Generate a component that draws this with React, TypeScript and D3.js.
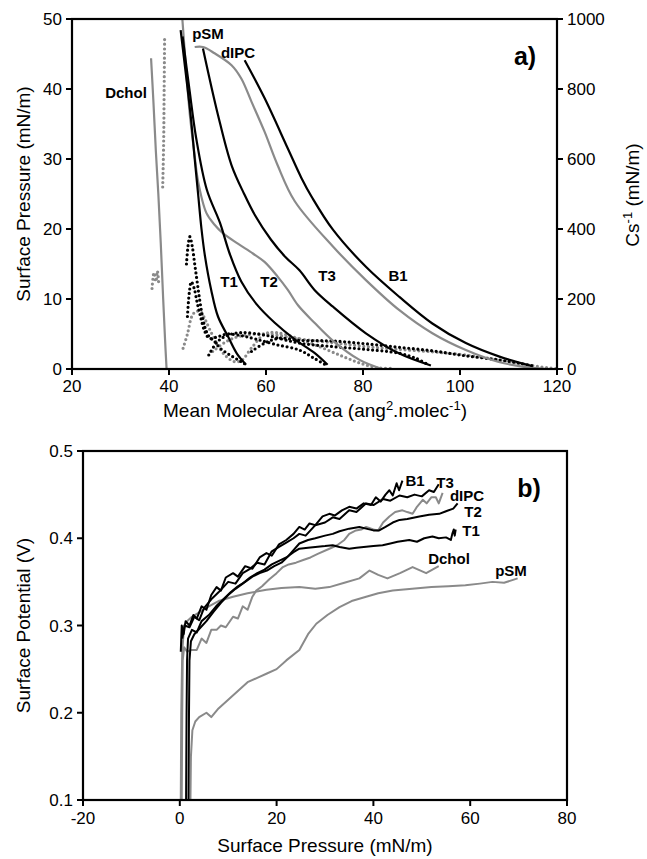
import React from "react";
import * as d3 from "d3";

type Pt = [number, number];

// ---- panel a) : isotherms [area, surface pressure]
const areaTicks = [20, 40, 60, 80, 100, 120];
const pressureTicks = [0, 10, 20, 30, 40, 50];
const csTicks = [0, 200, 400, 600, 800, 1000];

const dcholIso: Pt[] = [[36.3, 44.4], [36.8, 38], [37.3, 31], [37.8, 25], [38.3, 18], [38.8, 10], [39.2, 4], [39.5, 0]];
const psmIso: Pt[] = [[42.7, 50.5], [43.5, 43], [44.3, 36.3], [45.2, 31], [46, 26.8], [47.7, 22.3], [49.4, 20.6], [51.1, 19.4], [54.2, 17.9], [57.3, 16.5], [59.7, 15.3], [62.4, 13.2], [64.5, 11.3], [66.6, 9.1], [70, 6.6], [73.7, 4.1], [79.3, 1.3], [84, 0]];
const dipcIso: Pt[] = [[45.3, 46], [47, 46], [49.4, 45.1], [52.9, 43.4], [54.9, 41.5], [57, 38.2], [59.7, 33.9], [62.4, 29.1], [65.9, 24], [73.8, 17.5], [80.6, 12.7], [87.5, 8.4], [94.3, 5.1], [101.2, 2.7], [108, 1.0], [115, 0.15], [118, 0]];
const t1Iso: Pt[] = [[42.4, 48.4], [43.5, 42], [44.5, 36], [45.3, 30], [46, 25], [46.7, 20], [47.4, 16.2], [48.7, 11.3], [50.1, 7.5], [52.2, 4.6], [54, 2.2], [55.9, 0.6]];
const t2Iso: Pt[] = [[42.8, 47.5], [44.2, 40], [45.6, 33], [47.8, 25.6], [50.5, 20.9], [52.5, 16.5], [54.9, 12.5], [58, 9.3], [61.8, 6.6], [66, 4.2], [70, 2.3], [72.7, 0.6]];
const t3Iso: Pt[] = [[47, 45.8], [50.1, 36.3], [52.9, 29.1], [55.5, 25], [57.7, 22], [61, 18.5], [64, 16], [66.9, 14.1], [70, 11.3], [73.8, 8.9], [80.6, 5.1], [87.5, 2.2], [94, 0.5]];
const b1Iso: Pt[] = [[55.6, 44.1], [59.7, 38.7], [64.5, 31.5], [67.3, 27.3], [69.5, 24.5], [73.8, 19.9], [80.6, 14.6], [87.5, 10.3], [94.3, 6.5], [101.2, 3.7], [108, 1.8], [115, 0.4]];

// compressional modulus Cs^-1 [area, mN/m]
const dcholCs: (Pt | null)[] = [[36.5, 230], [36.9, 275], [37.3, 250], [37.6, 280], [37.9, 240], null, [38.7, 520], [38.9, 650], [39.0, 800], [39.1, 950]];
const psmCs: Pt[] = [[42.9, 59], [43.8, 100], [44.7, 150], [45.5, 164], [46.5, 164], [47.5, 140], [48.5, 110], [50, 70], [51.5, 40], [53.5, 21], [55, 25], [57, 60], [59.7, 100], [62, 104], [66, 90], [71, 64], [76, 35], [80, 14], [83.4, 3], [86, 2]];
const dipcCs: Pt[] = [[49, 50], [52, 80], [55, 95], [60, 100], [66.9, 86], [73.8, 75], [80.6, 64], [87.5, 56], [94.3, 49], [101, 40], [108, 26], [114, 12], [118.3, 3], [120, 1]];
const t1Cs: Pt[] = [[43.6, 300], [44, 360], [44.3, 378], [44.8, 350], [45.3, 300], [45.8, 250], [46.3, 200], [46.9, 150], [47.5, 115], [48.3, 92], [49.3, 80], [50.5, 60], [52, 45], [53.5, 32], [55, 20], [55.9, 12]];
const t2Cs: Pt[] = [[43.8, 150], [44.2, 220], [44.6, 249], [45.2, 230], [45.8, 190], [46.5, 150], [47.3, 110], [48.3, 88], [50, 92], [52, 100], [55, 95], [58, 85], [62, 70], [66.9, 54], [70, 30], [72.4, 11]];
const t3Cs: Pt[] = [[48.2, 40], [50, 78], [52, 96], [55, 104], [60, 96], [66.9, 74], [73.8, 64], [80.6, 56], [87.5, 45], [91, 30], [93.6, 11]];
const b1Cs: Pt[] = [[57, 50], [60, 76], [63, 88], [66.9, 82], [73.8, 80], [80.6, 72], [87.5, 62], [94.3, 52], [101, 38], [108, 26], [112, 17], [115, 9]];

// ---- panel b) : surface potential [surface pressure, V]
const pressureTicksB = [-20, 0, 20, 40, 60, 80];
const potentialTicks = [0.1, 0.2, 0.3, 0.4, 0.5];

const b1Pot: Pt[] = [[0.2, 0.27], [0.4, 0.3], [0.8, 0.29], [1.2, 0.305], [2, 0.3], [2.8, 0.312], [3.5, 0.308], [4.5, 0.322], [5.5, 0.318], [6.5, 0.335], [7.6, 0.344], [8.5, 0.34], [9.5, 0.355], [11, 0.36], [12, 0.356], [13.5, 0.368], [15, 0.365], [16.5, 0.378], [17.9, 0.383], [19, 0.38], [20.5, 0.393], [22, 0.398], [23.5, 0.405], [24.7, 0.413], [25.8, 0.41], [26.8, 0.417], [28, 0.415], [29.5, 0.425], [30.9, 0.428], [32, 0.426], [33.5, 0.432], [35, 0.436], [36.5, 0.434], [38, 0.44], [39.5, 0.438], [40.5, 0.447], [41.5, 0.442], [42.5, 0.45], [43.3, 0.455], [44, 0.449], [44.8, 0.463], [45.3, 0.455], [46, 0.466]];
const t3Pot: Pt[] = [[0.5, 0.285], [1, 0.3], [2, 0.298], [3, 0.31], [4, 0.306], [5, 0.32], [6.5, 0.33], [8, 0.338], [10, 0.35], [11.5, 0.348], [13, 0.36], [14.5, 0.365], [16, 0.372], [17.5, 0.37], [19, 0.385], [20.5, 0.39], [22, 0.395], [23.5, 0.4], [24.7, 0.405], [26, 0.403], [28, 0.415], [30, 0.418], [31.6, 0.424], [33, 0.422], [35, 0.432], [36.5, 0.43], [38.5, 0.44], [40, 0.438], [42, 0.445], [43.5, 0.443], [45.4, 0.449], [47, 0.447], [48.5, 0.45], [50, 0.448], [51.5, 0.455], [52.5, 0.453], [53.5, 0.462]];
const t2Pot: Pt[] = [[1.3, 0.1], [1.4, 0.2], [1.5, 0.26], [1.7, 0.285], [2.5, 0.295], [3.5, 0.292], [4.5, 0.305], [6, 0.312], [7.5, 0.322], [9, 0.33], [10.5, 0.338], [12, 0.345], [13.5, 0.35], [15, 0.356], [16.5, 0.36], [18, 0.363], [19.5, 0.368], [21, 0.372], [22.5, 0.38], [24.7, 0.394], [26.5, 0.398], [28, 0.4], [30, 0.403], [31.6, 0.405], [33, 0.408], [35, 0.411], [37.1, 0.413], [38.5, 0.411], [40, 0.409], [41.2, 0.409], [42.5, 0.413], [44, 0.418], [45.4, 0.421], [47, 0.422], [49.5, 0.425], [51.5, 0.427], [53.6, 0.428], [55, 0.431], [56.5, 0.434], [57.4, 0.44]];
const t1Pot: Pt[] = [[1.8, 0.1], [1.9, 0.2], [2, 0.26], [2.3, 0.282], [3, 0.29], [4, 0.296], [5.5, 0.305], [7, 0.316], [8.5, 0.326], [10, 0.335], [11.5, 0.342], [13, 0.348], [14.5, 0.355], [16, 0.36], [17.5, 0.364], [19, 0.37], [20.5, 0.374], [22, 0.378], [23.5, 0.384], [24.7, 0.388], [26.5, 0.389], [28, 0.39], [30, 0.391], [31.6, 0.392], [33, 0.39], [35, 0.388], [36.5, 0.389], [38, 0.39], [40, 0.391], [41.9, 0.392], [43.5, 0.394], [45, 0.396], [47.4, 0.398], [49, 0.396], [50.5, 0.4], [52.2, 0.402], [53.5, 0.4], [55, 0.401], [56, 0.398], [56.3, 0.405], [56.6, 0.41], [56.8, 0.403], [57, 0.41]];
const dipcPot: Pt[] = [[0.4, 0.1], [0.5, 0.2], [0.6, 0.26], [0.9, 0.275], [1.5, 0.27], [2.5, 0.272], [3.5, 0.272], [4.5, 0.285], [5.5, 0.28], [6.5, 0.295], [7.6, 0.295], [8.5, 0.3], [9.5, 0.298], [11, 0.31], [12, 0.308], [13, 0.322], [14, 0.318], [15, 0.333], [15.8, 0.34], [17, 0.345], [18.5, 0.353], [20, 0.36], [21.3, 0.367], [22.5, 0.37], [24, 0.372], [25.5, 0.375], [27, 0.378], [28.5, 0.382], [30.9, 0.388], [32.5, 0.392], [34, 0.398], [35, 0.405], [36.4, 0.409], [37.5, 0.41], [38.5, 0.413], [40, 0.41], [41, 0.409], [42, 0.418], [43.3, 0.425], [44.5, 0.43], [46, 0.432], [47, 0.43], [48.1, 0.428], [49, 0.436], [50.2, 0.444], [51, 0.44], [52, 0.447], [52.9, 0.447], [53.5, 0.44], [54.3, 0.452]];
const dcholPot: Pt[] = [[0.2, 0.1], [0.3, 0.2], [0.5, 0.27], [0.9, 0.3], [1.5, 0.305], [2.5, 0.31], [4, 0.315], [6, 0.322], [8, 0.328], [11, 0.333], [14, 0.337], [17.9, 0.341], [21, 0.343], [24.7, 0.344], [28, 0.342], [30.9, 0.344], [34, 0.349], [37.1, 0.354], [39.2, 0.363], [41, 0.358], [42.9, 0.354], [45.5, 0.36], [48.1, 0.367], [50.9, 0.36], [53.5, 0.368]];
const psmPot: Pt[] = [[2.2, 0.1], [2.3, 0.15], [2.6, 0.18], [3.2, 0.19], [4, 0.195], [5.5, 0.2], [6.5, 0.195], [8, 0.205], [10, 0.215], [12, 0.225], [14, 0.235], [16, 0.24], [18, 0.245], [20, 0.25], [22, 0.26], [24.7, 0.272], [26.5, 0.29], [28.2, 0.302], [30.5, 0.312], [33, 0.321], [35.5, 0.328], [38.5, 0.333], [41, 0.337], [44, 0.34], [48, 0.342], [52, 0.344], [55.5, 0.345], [59, 0.346], [62, 0.348], [64.6, 0.35], [67, 0.349], [69.8, 0.354]];

const BLACK = "#000";
const GREY = "#8a8a8a";
const FONT = "'Liberation Sans', Arial, sans-serif";

const A = { left: 72, right: 557, top: 19, bottom: 369 };
const B = { left: 83, right: 567, top: 451, bottom: 800 };

export default function App() {
  const xA = d3.scaleLinear().domain([20, 120]).range([A.left, A.right]);
  const yA = d3.scaleLinear().domain([0, 50]).range([A.bottom, A.top]);
  const yCs = d3.scaleLinear().domain([0, 1000]).range([A.bottom, A.top]);
  const xB = d3.scaleLinear().domain([-20, 80]).range([B.left, B.right]);
  const yB = d3.scaleLinear().domain([0.1, 0.5]).range([B.bottom, B.top]);

  const isoLine = d3.line<Pt>().x(d => xA(d[0])).y(d => yA(d[1])).curve(d3.curveCatmullRom);
  const csLine = d3.line<Pt | null>().defined(d => d !== null).x(d => xA(d![0])).y(d => yCs(d![1])).curve(d3.curveCatmullRom);
  const potLine = d3.line<Pt>().x(d => xB(d[0])).y(d => yB(d[1]));

  const isos = [
    { d: dcholIso, c: GREY }, { d: psmIso, c: GREY }, { d: dipcIso, c: GREY },
    { d: t1Iso, c: BLACK }, { d: t2Iso, c: BLACK }, { d: t3Iso, c: BLACK }, { d: b1Iso, c: BLACK },
  ];
  const css = [
    { d: dcholCs, c: GREY }, { d: psmCs, c: GREY }, { d: dipcCs, c: GREY },
    { d: t1Cs, c: BLACK }, { d: t2Cs, c: BLACK }, { d: t3Cs, c: BLACK }, { d: b1Cs, c: BLACK },
  ];
  const pots = [
    { d: psmPot, c: GREY }, { d: dcholPot, c: GREY }, { d: dipcPot, c: GREY },
    { d: t1Pot, c: BLACK }, { d: t2Pot, c: BLACK }, { d: t3Pot, c: BLACK }, { d: b1Pot, c: BLACK },
  ];

  const labelsA = [
    { t: "Dchol", x: 126, y: 93 }, { t: "pSM", x: 208, y: 34 }, { t: "dIPC", x: 238, y: 53 },
    { t: "T1", x: 229, y: 282 }, { t: "T2", x: 269, y: 282 }, { t: "T3", x: 327, y: 276 }, { t: "B1", x: 398, y: 276 },
  ];
  const labelsB = [
    { t: "B1", x: 415, y: 481 }, { t: "T3", x: 445, y: 483 }, { t: "dIPC", x: 467, y: 496 },
    { t: "T2", x: 473, y: 512 }, { t: "T1", x: 471, y: 531 }, { t: "Dchol", x: 449, y: 559 }, { t: "pSM", x: 511, y: 571 },
  ];

  return (
    <svg width={647} height={859} style={{ position: "absolute", left: 0, top: 0, background: "#fff" }} fontFamily={FONT}>
      <defs>
        <clipPath id="clipA"><rect x={A.left} y={A.top} width={A.right - A.left} height={A.bottom - A.top} /></clipPath>
        <clipPath id="clipB"><rect x={B.left} y={B.top} width={B.right - B.left} height={B.bottom - B.top} /></clipPath>
      </defs>

      {/* panel a */}
      <g clipPath="url(#clipA)">
        {css.map((s, i) => (
          <path key={"cs" + i} d={csLine(s.d) || ""} fill="none" stroke={s.c} strokeWidth={3.2} strokeLinecap="round" strokeDasharray="0 4.6" />
        ))}
        {isos.map((s, i) => (
          <path key={"iso" + i} d={isoLine(s.d) || ""} fill="none" stroke={s.c} strokeWidth={2.2} />
        ))}
      </g>
      <rect x={A.left} y={A.top} width={A.right - A.left} height={A.bottom - A.top} fill="none" stroke="#000" strokeWidth={2.2} />
      {areaTicks.map(t => (
        <g key={"xa" + t}>
          <line x1={xA(t)} x2={xA(t)} y1={A.bottom} y2={A.bottom + 6} stroke="#000" strokeWidth={2} />
          <text x={xA(t)} y={A.bottom + 23} fontSize={17} textAnchor="middle">{t}</text>
        </g>
      ))}
      {pressureTicks.map(t => (
        <g key={"ya" + t}>
          <line x1={A.left - 6} x2={A.left} y1={yA(t)} y2={yA(t)} stroke="#000" strokeWidth={2} />
          <text x={A.left - 10} y={yA(t) + 6} fontSize={17} textAnchor="end">{t}</text>
        </g>
      ))}
      {csTicks.map(t => (
        <g key={"yc" + t}>
          <line x1={A.right} x2={A.right + 6} y1={yCs(t)} y2={yCs(t)} stroke="#000" strokeWidth={2} />
          <text x={A.right + 10} y={yCs(t) + 6} fontSize={17} textAnchor="start">{t}</text>
        </g>
      ))}
      <text x={315} y={417} fontSize={19} textAnchor="middle">
        Mean Molecular Area (ang<tspan dy={-7} fontSize={13}>2</tspan><tspan dy={7}>.molec</tspan><tspan dy={-7} fontSize={13}>-1</tspan><tspan dy={7}>)</tspan>
      </text>
      <text transform={`translate(30,${(A.top + A.bottom) / 2}) rotate(-90)`} fontSize={19} textAnchor="middle">Surface Pressure (mN/m)</text>
      <text transform="translate(639,195) rotate(-90)" fontSize={19} textAnchor="middle">
        Cs<tspan dy={-7} fontSize={13}>-1</tspan><tspan dy={7}> (mN/m)</tspan>
      </text>
      {labelsA.map(l => (
        <text key={"la" + l.t} x={l.x} y={l.y + 5} fontSize={15} fontWeight="bold" textAnchor="middle">{l.t}</text>
      ))}
      <text x={525} y={65} fontSize={25} fontWeight="bold" textAnchor="middle">a)</text>

      {/* panel b */}
      <g clipPath="url(#clipB)">
        {pots.map((s, i) => (
          <path key={"pot" + i} d={potLine(s.d) || ""} fill="none" stroke={s.c} strokeWidth={2} strokeLinejoin="round" />
        ))}
      </g>
      <rect x={B.left} y={B.top} width={B.right - B.left} height={B.bottom - B.top} fill="none" stroke="#000" strokeWidth={2.2} />
      {pressureTicksB.map(t => (
        <g key={"xb" + t}>
          <line x1={xB(t)} x2={xB(t)} y1={B.bottom} y2={B.bottom + 6} stroke="#000" strokeWidth={2} />
          <text x={xB(t)} y={B.bottom + 24} fontSize={17} textAnchor="middle">{t}</text>
        </g>
      ))}
      {potentialTicks.map(t => (
        <g key={"yb" + t}>
          <line x1={B.left - 6} x2={B.left} y1={yB(t)} y2={yB(t)} stroke="#000" strokeWidth={2} />
          <text x={B.left - 10} y={yB(t) + 6} fontSize={17} textAnchor="end">{d3.format(".1f")(t)}</text>
        </g>
      ))}
      <text x={(B.left + B.right) / 2} y={852} fontSize={19} textAnchor="middle">Surface Pressure (mN/m)</text>
      <text transform={`translate(30,${(B.top + B.bottom) / 2}) rotate(-90)`} fontSize={19} textAnchor="middle">Surface Potential (V)</text>
      {labelsB.map(l => (
        <text key={"lb" + l.t} x={l.x} y={l.y + 5} fontSize={15} fontWeight="bold" textAnchor="middle">{l.t}</text>
      ))}
      <text x={529} y={497} fontSize={25} fontWeight="bold" textAnchor="middle">b)</text>
    </svg>
  );
}
